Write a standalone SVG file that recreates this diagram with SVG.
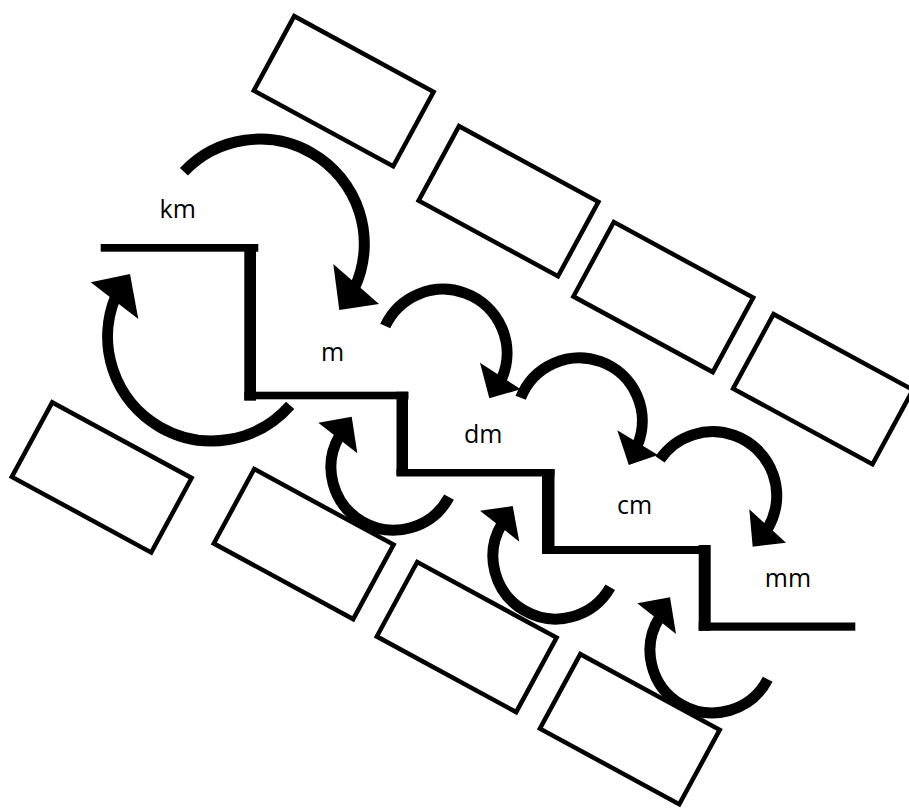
<svg xmlns="http://www.w3.org/2000/svg" width="909" height="808" viewBox="0 0 909 808">
<defs>
<style>
.box{fill:#fff;stroke:#000;stroke-width:4.5}
.step{fill:#000}
.arc{fill:none;stroke:#000;stroke-width:11;stroke-linecap:butt}
.head{fill:#000}
.lbl{font-family:"Open Sans","Noto Sans","DejaVu Sans",sans-serif;font-size:25px;fill:#000;text-anchor:middle}
</style>
<rect id="card" x="-79.3" y="-42.35" width="158.6" height="84.7"/>
</defs>
<rect width="909" height="808" fill="#fff"/>
<g id="boxes-top">
<g id="box-t1"><use href="#card" class="box" transform="translate(343.7,91.2) rotate(28.5)"/></g>
<g id="box-t2"><use href="#card" class="box" transform="translate(508.5,201.2) rotate(28.5)"/></g>
<g id="box-t3"><use href="#card" class="box" transform="translate(663.3,297.1) rotate(28.5)"/></g>
<g id="box-t4"><use href="#card" class="box" transform="translate(823,389.2) rotate(28.5)"/></g>
</g>
<g id="boxes-bottom">
<g id="box-b1"><use href="#card" class="box" transform="translate(101.7,477.4) rotate(28.5)"/></g>
<g id="box-b2"><use href="#card" class="box" transform="translate(303.7,544.1) rotate(28.5)"/></g>
<g id="box-b3"><use href="#card" class="box" transform="translate(466.7,637.1) rotate(28.5)"/></g>
<g id="box-b4"><use href="#card" class="box" transform="translate(629.8,729.2) rotate(28.5)"/></g>
</g>
<g id="staircase" class="step">
<rect x="100.7" y="244" width="157.6" height="7.7"/>
<rect x="244.3" y="244" width="11.7" height="156.7"/>
<rect x="244.3" y="391.7" width="164.2" height="7.6"/>
<rect x="396.5" y="391.7" width="11.5" height="83.3"/>
<rect x="396.5" y="469" width="158" height="7.5"/>
<rect x="542" y="469" width="12.5" height="85"/>
<rect x="542" y="546" width="157.4" height="8"/>
<rect x="698.7" y="545" width="12" height="85.7"/>
<rect x="698.7" y="622.5" width="156.6" height="8.2"/>
</g>
<g id="labels" class="lbl">
<g id="lbl-km"><text x="177.7" y="218.3">km</text></g>
<g id="lbl-m"><text x="332.7" y="360.7">m</text></g>
<g id="lbl-dm"><text x="483.3" y="443.3">dm</text></g>
<g id="lbl-cm"><text x="634.5" y="514">cm</text></g>
<g id="lbl-mm"><text x="788" y="586.7">mm</text></g>
</g>
<g id="connectors">
<g id="arrow-km-m">
<path class="arc" d="M183.95,171.67 A104.6,104.6 0 0 1 312,153.2 A104.6,104.6 0 0 1 354.5,288"/>
<polygon class="head" points="333.3,264 379,304 339.3,310"/>
</g>
<g id="arrow-m-dm">
<path class="arc" d="M385.23,326 A63.9,63.9 0 0 1 464.95,293.05 A63.9,63.9 0 0 1 501.5,379.1"/>
<polygon class="head" points="480,362.7 520.7,389.3 489.3,398.3"/>
</g>
<g id="arrow-dm-cm">
<path class="arc" d="M520.7,397.8 A63,63 0 0 1 600.85,361.7 A63,63 0 0 1 637.5,445"/>
<polygon class="head" points="617.3,430.3 658,455 628.8,465"/>
</g>
<g id="arrow-cm-mm">
<path class="arc" d="M660,459.3 A64,64 0 0 1 734.6,435.5 A64,64 0 0 1 767.6,528.6"/>
<polygon class="head" points="749.3,509.3 786,542.7 752.7,546.7"/>
</g>
<g id="arrow-m-km">
<path class="arc" d="M290.17,405.37 A104.2,104.2 0 0 1 159.7,426.9 A104.2,104.2 0 0 1 115.9,296"/>
<polygon class="head" points="90.7,282.3 138.3,319 130,274"/>
</g>
<g id="arrow-dm-m">
<path class="arc" d="M449.04,497.17 A62.8,62.8 0 0 1 362.4,521.69 A62.8,62.8 0 0 1 339.4,435.9"/>
<polygon class="head" points="318.3,422.7 357.3,453.3 351.7,416.7"/>
</g>
<g id="arrow-cm-dm">
<path class="arc" d="M610.25,587.3 A62.8,62.8 0 0 1 524.3,610.59 A62.8,62.8 0 0 1 501.9,523.9"/>
<polygon class="head" points="480,510.7 519.3,541.7 512.7,506"/>
</g>
<g id="arrow-mm-cm">
<path class="arc" d="M767.7,679.3 A62.3,62.3 0 0 1 681.15,704.45 A62.3,62.3 0 0 1 659.8,617"/>
<polygon class="head" points="637.3,603.3 676,634 670,597.3"/>
</g>
</g>
</svg>
